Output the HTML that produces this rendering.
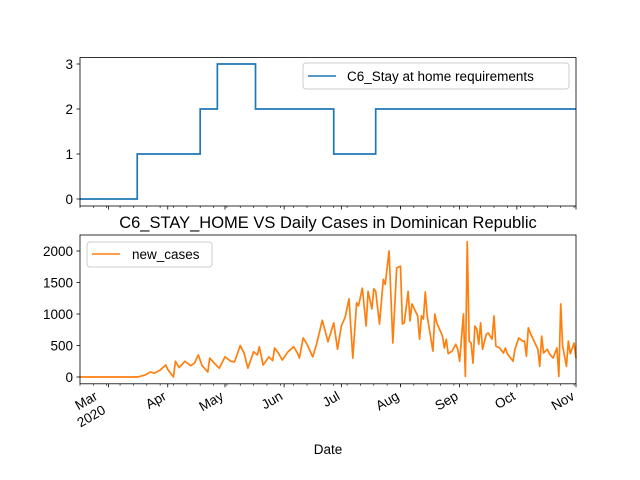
<!DOCTYPE html>
<html><head><meta charset="utf-8"><style>
body{margin:0;background:#fff;}
svg{display:block;font-family:"Liberation Sans","DejaVu Sans",sans-serif;}
</style></head><body>
<svg id="fig" width="640" height="480" viewBox="0 0 640 480"></svg>
<script>
// ---- data ----
const stepDays = [0, 30, 63, 72, 92, 133, 155, 260];
const stepLevels = [0, 1, 2, 3, 2, 1, 2];
const caseDays = [0,30,31,34,37,39,42,45,46,49,50,52,55,58,60,62,64,67,68,71,73,76,79,81,84,86,88,91,93,94,96,99,101,102,104,106,109,112,114,115,117,119,122,124,127,130,133,135,137,139,141,143,145,146,148,150,151,153,154,155,157,159,160,162,164,166,168,169,170,172,173,174,177,178,179,180,181,182,185,186,187,190,191,192,193,195,197,198,199,201,202,203,204,205,206,207,208,209,210,211,213,214,216,217,218,220,222,223,224,227,228,230,232,233,234,235,236,238,240,241,242,243,245,246,248,250,251,252,253,255,256,257,259,260];
const caseValues = [0,0,5,30,80,60,110,190,120,0,250,150,250,180,220,350,180,80,300,200,140,320,250,240,500,380,140,400,350,480,190,320,260,460,380,270,400,480,380,300,620,520,320,520,900,560,860,440,810,950,1240,300,1180,1130,1410,810,1360,1080,1400,1360,840,1550,1470,2000,540,1730,1760,840,860,1360,890,1160,970,600,970,920,1350,970,410,1000,860,650,460,600,370,410,520,440,250,1000,10,2150,570,540,220,810,760,520,860,440,680,700,600,970,490,460,380,460,370,250,440,620,570,570,330,780,700,570,440,170,650,380,440,370,300,460,10,1160,490,170,570,370,540,300];
const monthDays = [15, 46, 76, 107, 137, 168, 199, 229, 260];
const monthLabels = ["Mar\n2020","Apr","May","Jun","Jul","Aug","Sep","Oct","Nov"];
const topTicks = [0,1,2,3];
const botTicks = [0,500,1000,1500,2000];

const NS="http://www.w3.org/2000/svg";
const svg=document.getElementById('fig');
function mk(tag,attrs,parent){const e=document.createElementNS(NS,tag);for(const k in attrs)e.setAttribute(k,attrs[k]);(parent||svg).appendChild(e);return e;}
const X0=80,X1=576;
const xs=d=>X0+(d-0)*(X1-X0)/260;
const yTop=v=>199-v*45;
const yBot=v=>377-v*0.063;

// ---- top axes ----
const gTop=mk('g',{});


let pts=[];
for(let i=0;i<stepLevels.length;i++){pts.push(xs(stepDays[i])+','+yTop(stepLevels[i]));pts.push(xs(stepDays[i+1])+','+yTop(stepLevels[i]));}
const lt=mk('polyline',{points:pts.join(' '),fill:'none',stroke:'#1f77b4','stroke-width':1.7},gTop);


const ft=mk('rect',{x:X0,y:57.5,width:X1-X0,height:148.5,fill:'none',stroke:'#000','stroke-width':0.8},gTop);


topTicks.forEach(t=>{
  mk('line',{x1:X0-3.5,x2:X0,y1:yTop(t),y2:yTop(t),stroke:'#000','stroke-width':0.8},gTop);
  const tx=mk('text',{x:X0-7,y:yTop(t)+5,'text-anchor':'end','font-size':13.5},gTop);tx.textContent=t;
  
  
});

// ---- bottom axes ----
const gBot=mk('g',{});


const cp=caseDays.map((d,i)=>xs(d)+','+yBot(caseValues[i])).join(' ');
const lb=mk('polyline',{points:cp,fill:'none',stroke:'#ff7f0e','stroke-width':1.7,'stroke-linejoin':'round'},gBot);


const fb=mk('rect',{x:X0,y:235,width:X1-X0,height:148.8,fill:'none',stroke:'#000','stroke-width':0.8},gBot);


botTicks.forEach(t=>{
  mk('line',{x1:X0-3.5,x2:X0,y1:yBot(t),y2:yBot(t),stroke:'#000','stroke-width':0.8},gBot);
  const tx=mk('text',{x:X0-7,y:yBot(t)+5,'text-anchor':'end','font-size':13.5},gBot);tx.textContent=t;
  
  
});

// x ticks (both axes)
[206,383.8].forEach(yb=>{
  for(let d=0;d<=260;d+=7){mk('line',{x1:xs(d),x2:xs(d),y1:yb,y2:yb+2,stroke:'#000','stroke-width':0.6});}
  monthDays.forEach(d=>mk('line',{x1:xs(d),x2:xs(d),y1:yb,y2:yb+3.5,stroke:'#000','stroke-width':0.8}));
});
monthDays.forEach((d,i)=>{
  const lines=monthLabels[i].split('\n');
  const px=i===0?X0+14:xs(d)-5;
  const tx=mk('text',{'text-anchor':'end','font-size':13.5,transform:`translate(${px},${391}) rotate(-30)`});
  
  
  lines.forEach((l,j)=>{const s=mk('tspan',{x:0,dy:j===0?9:16},tx);s.textContent=l;});
});

// title, xlabel
const ti=mk('text',{x:328,y:228,'text-anchor':'middle','font-size':16.5});ti.textContent='C6_STAY_HOME VS Daily Cases in Dominican Republic';


const xl=mk('text',{x:328,y:454,'text-anchor':'middle','font-size':13.5});xl.textContent='Date';



// legends
const lg1=mk('g',{});


mk('rect',{x:303,y:63,width:266,height:26,rx:3,fill:'#fff',stroke:'#ccc','stroke-width':1},lg1);
mk('line',{x1:308,x2:336,y1:76,y2:76,stroke:'#1f77b4','stroke-width':1.5},lg1);
const t1=mk('text',{x:347,y:81,'font-size':13.5},lg1);t1.textContent='C6_Stay at home requirements';
const lg2=mk('g',{});


mk('rect',{x:87,y:242,width:125,height:25,rx:3,fill:'#fff',stroke:'#ccc','stroke-width':1},lg2);
mk('line',{x1:92,x2:120,y1:254,y2:254,stroke:'#ff7f0e','stroke-width':1.5},lg2);
const t2=mk('text',{x:132,y:259,'font-size':13.5},lg2);t2.textContent='new_cases';
</script>
</body></html>
